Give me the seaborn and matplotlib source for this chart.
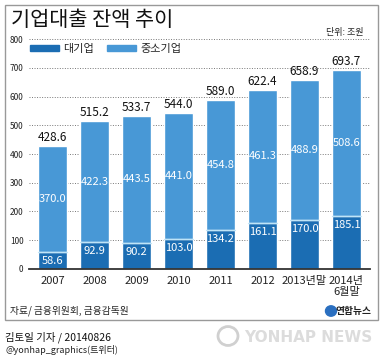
import matplotlib.pyplot as plt
import seaborn as sns
from matplotlib.patches import Rectangle, Patch, Circle

# 기업대출 잔액 (단위: 조원)
years = ['2007', '2008', '2009', '2010', '2011', '2012', '2013년말', '2014년\n6월말']
large = [58.6, 92.9, 90.2, 103.0, 134.2, 161.1, 170.0, 185.1]   # 대기업
sme = [370.0, 422.3, 443.5, 441.0, 454.8, 461.3, 488.9, 508.6]  # 중소기업
total = [428.6, 515.2, 533.7, 544.0, 589.0, 622.4, 658.9, 693.7]
yticks = [0, 100, 200, 300, 400, 500, 600, 700, 800]

DARK = '#1b6db3'
LIGHT = '#4898d6'
W, H = 382, 361


def fx(x):
    return x / W


def fy(y):
    return 1 - y / H


sns.set_style('white')
plt.rcParams['font.family'] = ['Noto Sans CJK KR', 'DejaVu Sans']

fig = plt.figure(figsize=(W / 100, H / 100), dpi=100)
ax = fig.add_axes([fx(29), fy(268.7), (370 - 29) / W, (268.7 - 39.3) / H])

# 전체(중소기업 위) 막대 먼저, 그 위에 대기업 막대
sns.barplot(x=years, y=total, color=LIGHT, saturation=1, width=0.68, ax=ax, zorder=3)
n_total = len(ax.patches)
sns.barplot(x=years, y=large, color=DARK, saturation=1, width=0.68, ax=ax, zorder=4)
dark_bars = ax.patches[n_total:]

for i, bar in enumerate(dark_bars):
    x0 = bar.get_x()
    x1 = x0 + bar.get_width()
    xc = x0 + bar.get_width() / 2
    ax.plot([x0, x1], [large[i], large[i]], color='#bfe4f7', lw=0.9, zorder=5)
    ax.annotate(f'{large[i]:.1f}', (xc, large[i]), xytext=(0, -3), textcoords='offset points',
                ha='center', va='top', color='white', fontsize=8, zorder=6)
    ax.text(xc, large[i] + sme[i] / 2, f'{sme[i]:.1f}', ha='center', va='center',
            color='white', fontsize=8, zorder=6)
    ax.annotate(f'{total[i]:.1f}', (xc, total[i]), xytext=(0, 1.5), textcoords='offset points',
                ha='center', va='bottom', color='#111', fontsize=8.5, zorder=6)

ax.set_ylim(0, 800)
ax.set_xlim(-0.56, 7.56)
ax.set_yticks(yticks)
ax.set_yticklabels([str(v) for v in yticks])
ax.set_xlabel('')
ax.set_ylabel('')
ax.yaxis.grid(True, linestyle=(0, (1, 1.6)), color='#777', lw=0.7, zorder=0)
ax.xaxis.grid(False)
for s in ['left', 'right', 'top']:
    ax.spines[s].set_visible(False)
ax.spines['bottom'].set_color('#333')
ax.spines['bottom'].set_linewidth(1.3)
ax.spines['bottom'].set_zorder(7)
ax.tick_params(axis='y', labelsize=6, length=0, pad=4, colors='#222')
ax.tick_params(axis='x', labelsize=8, length=0, pad=5, colors='#222')
for lab in ax.get_xticklabels():
    lab.set_linespacing(1.15)
    lab.set_multialignment('center')
    lab.set_verticalalignment('top')

handles = [Patch(color=DARK, label='대기업'), Patch(color=LIGHT, label='중소기업')]
fig.legend(handles=handles, loc='upper left', bbox_to_anchor=(fx(30), fy(44)), ncol=2,
           frameon=False, fontsize=8, handlelength=2.6, handleheight=0.55,
           handletextpad=0.4, columnspacing=1.2, borderaxespad=0, borderpad=0)

# 제목과 단위
fig.text(fx(11), fy(20), '기업대출 잔액 추이', fontsize=15, fontweight='medium',
         ha='left', va='center', color='#111')
fig.text(fx(364), fy(33), '단위: 조원', fontsize=6.5, ha='right', va='center', color='#222')

# 바깥 틀
fig.add_artist(Rectangle((fx(5), fy(320)), (378 - 5) / W, (320 - 5) / H,
                         transform=fig.transFigure, fill=False, ec='#999', lw=1))

fig.text(fx(10), fy(311), '자료/ 금융위원회, 금융감독원', fontsize=7, ha='left', va='center',
         color='#222')
fig.add_artist(Circle((fx(331), fy(311)), 5.5 / W, transform=fig.transFigure, color='#2a6fc0'))
fig.text(fx(372), fy(311), '연합뉴스', fontsize=7, fontweight='bold', ha='right', va='center',
         color='#222')

fig.text(fx(5), fy(337), '김토일 기자 / 20140826', fontsize=7.5, ha='left', va='center',
         color='#111')
fig.text(fx(5), fy(350), '@yonhap_graphics(트위터)', fontsize=6.5, ha='left', va='center',
         color='#222')
fig.add_artist(Circle((fx(228), fy(336)), 10 / W, transform=fig.transFigure, fill=False,
                      ec='#d0d0d0', lw=2))
fig.text(fx(372), fy(337), 'YONHAP NEWS', fontsize=11, fontweight='bold', ha='right',
         va='center', color='#dcdcdc', family=['DejaVu Sans'])

fig.savefig('out.png', dpi=100)
